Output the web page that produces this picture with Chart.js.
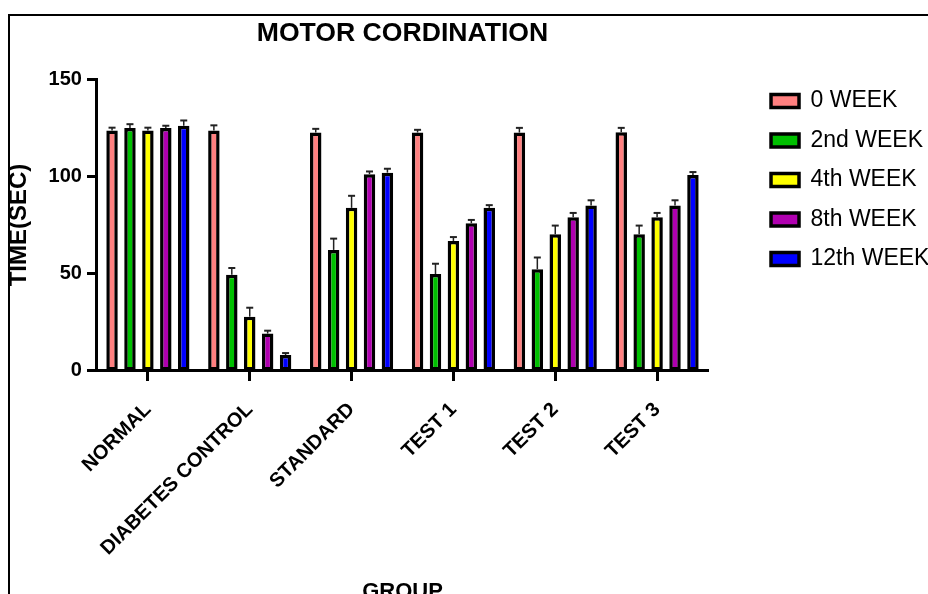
<!DOCTYPE html>
<html>
<head>
<meta charset="utf-8">
<script src="https://cdn.jsdelivr.net/npm/chart.js@4.4.1/dist/chart.umd.min.js"></script>
<style>
  html, body { margin: 0; padding: 0; background: #fff; overflow: hidden; width: 928px; height: 594px; }
  #wrap { position: absolute; left: 0; top: 0; width: 960px; height: 606px; }
  #frame { position: absolute; left: 8px; top: 14px; width: 1000px; height: 700px; border: 2px solid #000; pointer-events: none; }
</style>
</head>
<body>
<div id="wrap"><canvas id="c" width="960" height="606"></canvas></div>
<div id="frame"></div>
<script>
const categories = ['NORMAL', 'DIABETES CONTROL', 'STANDARD', 'TEST 1', 'TEST 2', 'TEST 3'];
const seriesNames = ['0 WEEK', '2nd WEEK', '4th WEEK', '8th WEEK', '12th WEEK'];
const week0  = [123.5, 123.5, 122.5, 122.5, 122.5, 122.7];
const week2  = [124.8, 49.5, 62.2, 49.8, 52.3, 70.2];
const week4  = [123.5, 27.9, 83.8, 66.8, 70.2, 79.0];
const week8  = [124.8, 19.2, 101.1, 75.9, 79.0, 85.0];
const week12 = [126.0, 8.2, 101.9, 83.8, 85.0, 100.7];
const err0  = [1.5, 2.7, 1.9, 1.4, 2.4, 2.2];
const err2  = [2.0, 3.4, 5.8, 5.3, 6.0, 4.5];
const err4  = [1.5, 4.6, 6.2, 2.0, 4.5, 2.2];
const err8  = [1.2, 1.5, 1.4, 1.7, 2.2, 2.7];
const err12 = [2.7, 1.0, 2.0, 1.4, 2.7, 1.5];
const yTicks = [0, 50, 100, 150];

const seriesValues = [week0, week2, week4, week8, week12];
const seriesErrors = [err0, err2, err4, err8, err12];
const seriesColors = ['#FF8080', '#00C000', '#FFFF00', '#B000B0', '#0000FF'];

const FONT = "'Liberation Sans', Arial, Helvetica, sans-serif";

const errorBars = {
  id: 'errorBars',
  afterDatasetsDraw(chart) {
    const ctx = chart.ctx;
    const y = chart.scales.y;
    ctx.save();
    chart.data.datasets.forEach((ds, i) => {
      const meta = chart.getDatasetMeta(i);
      meta.data.forEach((el, j) => {
        const v = ds.data[j];
        const e = seriesErrors[i][j];
        const top = y.getPixelForValue(v + e);
        ctx.strokeStyle = '#222';
        ctx.lineWidth = 1.5;
        ctx.beginPath();
        ctx.moveTo(el.x, el.y);
        ctx.lineTo(el.x, top);
        ctx.stroke();
        ctx.lineWidth = 2;
        ctx.beginPath();
        ctx.moveTo(el.x - 3.5, top);
        ctx.lineTo(el.x + 3.5, top);
        ctx.stroke();
      });
    });
    ctx.restore();
  }
};

const chart = new Chart(document.getElementById('c'), {
  type: 'bar',
  data: {
    labels: categories,
    datasets: seriesNames.map((name, i) => ({
      label: name,
      data: seriesValues[i],
      backgroundColor: seriesColors[i],
      borderColor: '#000',
      borderWidth: 3.5,
      borderSkipped: false,
      categoryPercentage: 0.88,
      barPercentage: 0.64
    }))
  },
  options: {
    responsive: false,
    animation: false,
    devicePixelRatio: 1,
    layout: { padding: { left: 0, right: 20.6, top: 0, bottom: 0.8 } },
    plugins: {
      tooltip: { enabled: false },
      title: {
        display: true,
        text: 'MOTOR CORDINATION',
        fullSize: false,
        color: '#000',
        font: { family: FONT, size: 26.6, weight: 'bold' },
        padding: { top: 18, bottom: 29.1 }
      },
      legend: {
        position: 'right',
        align: 'start',
        title: { display: true, text: '', font: { size: 12 }, padding: { top: 58.6, bottom: 0 } },
        labels: {
          color: '#000',
          font: { family: FONT, size: 23 },
          boxWidth: 28,
          boxHeight: 13,
          padding: 16.5
        }
      }
    },
    scales: {
      x: {
        offset: true,
        grid: { display: true, drawOnChartArea: false, drawTicks: true, offset: false, tickLength: 10, tickWidth: 3, tickColor: '#000' },
        border: { display: true, width: 3, color: '#000' },
        ticks: { color: '#000', font: { family: FONT, size: 20, weight: 'bold' }, minRotation: 45, maxRotation: 45, padding: 17 },
        title: { display: true, text: 'GROUP', color: '#000', font: { family: FONT, size: 22, weight: 'bold' }, padding: { top: 1.5, bottom: 0 } }
      },
      y: {
        min: 0,
        max: 150,
        afterBuildTicks: s => { s.ticks = yTicks.map(v => ({ value: v })); },
        grid: { display: true, drawOnChartArea: false, drawTicks: true, tickLength: 10, tickWidth: 3, tickColor: '#000' },
        border: { display: true, width: 3, color: '#000' },
        ticks: { color: '#000', font: { family: FONT, size: 20, weight: 'bold' }, padding: 5 },
        title: { display: true, text: 'TIME(SEC)', color: '#000', font: { family: FONT, size: 24, weight: 'bold' }, padding: { top: 5, bottom: 9.8 } }
      },
      spacer: {
        type: 'linear',
        position: 'right',
        display: false,
        afterFit: s => { s.width = 46.5; }
      }
    }
  },
  plugins: [errorBars]
});
</script>
</body>
</html>
